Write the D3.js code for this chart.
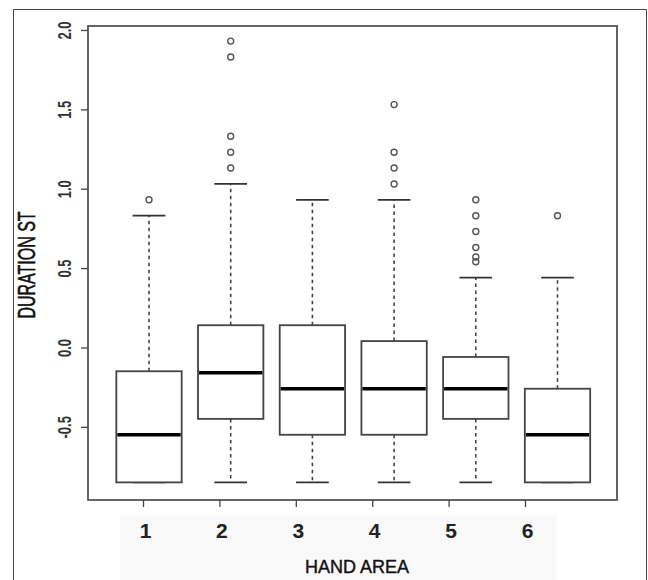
<!DOCTYPE html>
<html>
<head>
<meta charset="utf-8">
<script src="https://cdn.jsdelivr.net/npm/d3@7"></script>
<style>
  body { margin: 0; background: #fff; }
  svg { display: block; font-family: "Liberation Sans", Arial, sans-serif; }
</style>
</head>
<body>
<svg id="chart"></svg>
<script>
// Box plot data
const areas = ["1", "2", "3", "4", "5", "6"];
const whiskerLow = [-0.85, -0.85, -0.85, -0.85, -0.85, -0.85];
const q1 = [-0.85, -0.45, -0.55, -0.55, -0.45, -0.85];
const medians = [-0.55, -0.16, -0.26, -0.26, -0.26, -0.55];
const q3 = [-0.15, 0.14, 0.14, 0.04, -0.06, -0.26];
const whiskerHigh = [0.83, 1.03, 0.93, 0.93, 0.44, 0.44];
const outliers = [
    [0.93],
    [1.13, 1.23, 1.33, 1.83, 1.93],
    [],
    [1.03, 1.13, 1.23, 1.53],
    [0.54, 0.57, 0.63, 0.73, 0.83, 0.93],
    [0.83]
];
const yTicks = [-0.5, 0, 0.5, 1, 1.5, 2];

const width = 648;
const height = 580;
const plot = {left: 88, right: 617, top: 26, bottom: 500};

const svg = d3.select("#chart")
    .attr("width", width)
    .attr("height", height);

// outer frame of the figure
svg.append("path")
    .attr("d", `M13.5,${height} V9.5 H646.5 V${height}`)
    .attr("fill", "none")
    .attr("stroke", "#444")
    .attr("stroke-width", 1);

// light band behind the x labels
svg.append("rect")
    .attr("x", 120).attr("y", 514)
    .attr("width", 437).attr("height", 66)
    .attr("fill", "#f9f9f9");

const y = d3.scaleLinear()
    .domain([-0.961, 2.025])
    .range([plot.bottom, plot.top]);

// boxes sit on this scale
const x = d3.scalePoint()
    .domain(areas)
    .range([149, 557.5]);

// the axis ticks/labels in the picture are offset from the boxes
const xAxisScale = d3.scalePoint()
    .domain(areas)
    .range([143, 525]);

const step = x.step();
const boxW = step * 0.8;
const capW = boxW * 0.5;

const boxes = areas.map((a, i) => ({
    area: a,
    lo: whiskerLow[i], q1: q1[i], med: medians[i], q3: q3[i], hi: whiskerHigh[i],
    out: outliers[i]
}));

const g = svg.append("g");

// whiskers (dashed)
g.selectAll(".whisker-up")
  .data(boxes)
  .join("line")
    .attr("x1", d => x(d.area)).attr("x2", d => x(d.area))
    .attr("y1", d => y(d.q3)).attr("y2", d => y(d.hi))
    .attr("stroke", "#444").attr("stroke-width", 1.6)
    .attr("stroke-dasharray", "3.5,3.5");

g.selectAll(".whisker-down")
  .data(boxes)
  .join("line")
    .attr("x1", d => x(d.area)).attr("x2", d => x(d.area))
    .attr("y1", d => y(d.q1)).attr("y2", d => y(d.lo))
    .attr("stroke", "#444").attr("stroke-width", 1.6)
    .attr("stroke-dasharray", "3.5,3.5");

// staples
g.selectAll(".cap-hi")
  .data(boxes)
  .join("line")
    .attr("x1", d => x(d.area) - capW / 2).attr("x2", d => x(d.area) + capW / 2)
    .attr("y1", d => y(d.hi)).attr("y2", d => y(d.hi))
    .attr("stroke", "#333").attr("stroke-width", 1.8);

g.selectAll(".cap-lo")
  .data(boxes)
  .join("line")
    .attr("x1", d => x(d.area) - capW / 2).attr("x2", d => x(d.area) + capW / 2)
    .attr("y1", d => y(d.lo)).attr("y2", d => y(d.lo))
    .attr("stroke", "#333").attr("stroke-width", 1.8);

// boxes
g.selectAll(".box")
  .data(boxes)
  .join("rect")
    .attr("x", d => x(d.area) - boxW / 2)
    .attr("y", d => y(d.q3))
    .attr("width", boxW)
    .attr("height", d => y(d.q1) - y(d.q3))
    .attr("fill", "#fff")
    .attr("stroke", "#444")
    .attr("stroke-width", 1.8);

// medians
g.selectAll(".median")
  .data(boxes)
  .join("line")
    .attr("x1", d => x(d.area) - boxW / 2 + 1).attr("x2", d => x(d.area) + boxW / 2 - 1)
    .attr("y1", d => y(d.med)).attr("y2", d => y(d.med))
    .attr("stroke", "#000").attr("stroke-width", 3.5);

// outliers
const outPts = boxes.flatMap(d => d.out.map(v => ({area: d.area, v: v})));
g.selectAll(".outlier")
  .data(outPts)
  .join("circle")
    .attr("cx", d => x(d.area))
    .attr("cy", d => y(d.v))
    .attr("r", 3)
    .attr("fill", "none")
    .attr("stroke", "#555")
    .attr("stroke-width", 1.4);

// plot frame
svg.append("rect")
    .attr("x", plot.left).attr("y", plot.top)
    .attr("width", plot.right - plot.left)
    .attr("height", plot.bottom - plot.top)
    .attr("fill", "none")
    .attr("stroke", "#555")
    .attr("stroke-width", 1.8);

// y axis, labels parallel to the axis like R
const yAxis = svg.append("g")
    .attr("transform", `translate(${plot.left},0)`)
    .call(d3.axisLeft(y).tickValues(yTicks).tickSize(7).tickFormat(d => d.toFixed(1)));
yAxis.select(".domain").remove();
yAxis.selectAll("line").attr("stroke", "#444").attr("stroke-width", 1.3);
yAxis.selectAll("text")
    .attr("x", null).attr("dy", null)
    .attr("text-anchor", "middle")
    .attr("transform", "translate(-17,0) rotate(-90) scale(1,1.45)")
    .attr("font-size", 13)
    .attr("font-weight", "bold")
    .attr("fill", "#333")
    .attr("font-family", "'Liberation Sans', Arial, sans-serif");

// x axis
const xAxis = svg.append("g")
    .attr("transform", `translate(0,${plot.bottom})`)
    .call(d3.axisBottom(xAxisScale).tickSize(7).tickPadding(0));
xAxis.select(".domain").remove();
xAxis.selectAll("line").attr("stroke", "#444").attr("stroke-width", 1.3);
xAxis.selectAll("text")
    .attr("y", 38).attr("dy", null)
    .attr("dx", 2)
    .attr("font-size", 21)
    .attr("font-weight", "bold")
    .attr("fill", "#222")
    .attr("font-family", "'Liberation Sans', Arial, sans-serif");

// axis titles
svg.append("text")
    .attr("x", 357).attr("y", 573)
    .attr("text-anchor", "middle")
    .attr("font-size", 18)
    .attr("fill", "#111")
    .attr("stroke", "#111")
    .attr("stroke-width", 0.4)
    .text("HAND AREA");

svg.append("text")
    .attr("transform", "translate(35,265) rotate(-90) scale(1,1.45)")
    .attr("text-anchor", "middle")
    .attr("font-size", 16)
    .attr("fill", "#111")
    .attr("stroke", "#111")
    .attr("stroke-width", 0.4)
    .text("DURATION ST");
</script>
</body>
</html>
